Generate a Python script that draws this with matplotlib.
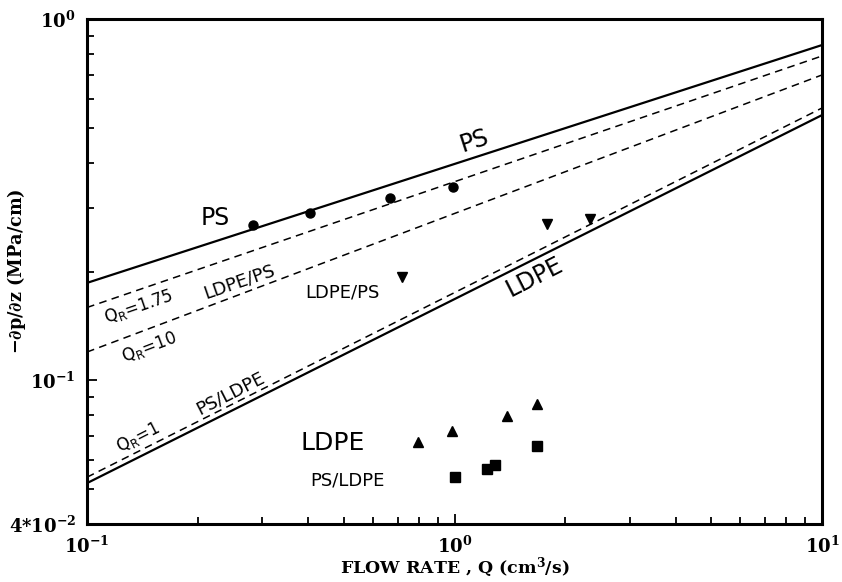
import numpy as np
import matplotlib
matplotlib.use("Agg")
import matplotlib.pyplot as plt
from matplotlib.ticker import FixedLocator, FixedFormatter, NullFormatter

plt.rcParams['font.family'] = ['DejaVu Serif']
plt.rcParams['mathtext.fontset'] = 'dejavuserif'
plt.rcParams['mathtext.default'] = 'bf'

# model lines: values at Q = 0.1 and Q = 10
q_ends = [0.1, 10.0]
ps_line = [0.186, 0.847]
qr175_line = [0.159, 0.790]
qr10_line = [0.1197, 0.700]
qr1_line = [0.0539, 0.567]
ldpe_line = [0.0519, 0.542]

# measured points
ps_q = [0.283, 0.405, 0.667, 0.99]
ps_dp = [0.269, 0.290, 0.3186, 0.343]
ldpe_ps_q = [0.718, 1.78, 2.34]
ldpe_ps_dp = [0.193, 0.2705, 0.279]
ldpe_q = [0.794, 0.987, 1.387, 1.674]
ldpe_dp = [0.0675, 0.0724, 0.0795, 0.0857]
ps_ldpe_q = [1.0, 1.224, 1.29, 1.674]
ps_ldpe_dp = [0.054, 0.0569, 0.0581, 0.0658]

xticks = [0.1, 1.0, 10.0]
xtick_labels = [r'$10^{-1}$', r'$10^{0}$', r'$10^{1}$']
yticks = [0.04, 0.1, 1.0]
ytick_labels = [r'4*$10^{-2}$', r'$10^{-1}$', r'$10^{0}$']

fig = plt.figure(figsize=(8.42, 5.82), dpi=100)
ax = fig.add_axes([87 / 842, 58 / 582, 735 / 842, 505 / 582])
ax.set_xscale('log')
ax.set_yscale('log')
ax.set_xlim(0.1, 10)
ax.set_ylim(0.04, 1.0)

ax.plot(q_ends, ps_line, color='black', lw=1.6)
ax.plot(q_ends, ldpe_line, color='black', lw=1.6)
dash = (0, (5, 3.5))
ax.plot(q_ends, qr175_line, color='black', lw=1.1, linestyle=dash)
ax.plot(q_ends, qr10_line, color='black', lw=1.1, linestyle=dash)
ax.plot(q_ends, qr1_line, color='black', lw=1.1, linestyle=dash)

ax.plot(ps_q, ps_dp, 'o', color='black', ms=6.5, ls='none')
ax.plot(ldpe_ps_q, ldpe_ps_dp, 'v', color='black', ms=6.5, ls='none')
ax.plot(ldpe_q, ldpe_dp, '^', color='black', ms=6.5, ls='none')
ax.plot(ps_ldpe_q, ps_ldpe_dp, 's', color='black', ms=6.5, ls='none')

sans = dict(family='DejaVu Sans', ha='center', va='center', color='black')
ax.text(0.224, 0.281, 'PS', fontsize=17, **sans)
ax.text(1.13, 0.459, 'PS', fontsize=17, rotation=18, **sans)
ax.text(0.259, 0.187, 'LDPE/PS', fontsize=13, rotation=19, **sans)
ax.text(0.138, 0.160, r'$\mathsf{Q_R}$=1.75', fontsize=12, rotation=19, **sans)
ax.text(0.1475, 0.1234, r'$\mathsf{Q_R}$=10', fontsize=12, rotation=21, **sans)
ax.text(0.494, 0.175, 'LDPE/PS', fontsize=13, **sans)
ax.text(0.245, 0.092, 'PS/LDPE', fontsize=13, rotation=27, **sans)
ax.text(0.138, 0.0695, r'$\mathsf{Q_R}$=1', fontsize=12, rotation=27, **sans)
ax.text(1.656, 0.193, 'LDPE', fontsize=17, rotation=27, **sans)
ax.text(0.467, 0.0669, 'LDPE', fontsize=18, **sans)
ax.text(0.51, 0.0528, 'PS/LDPE', fontsize=13, **sans)

ax.xaxis.set_major_locator(FixedLocator(xticks))
ax.xaxis.set_major_formatter(FixedFormatter(xtick_labels))
ax.yaxis.set_major_locator(FixedLocator(yticks))
ax.yaxis.set_major_formatter(FixedFormatter(ytick_labels))
ax.xaxis.set_minor_formatter(NullFormatter())
ax.yaxis.set_minor_formatter(NullFormatter())
ax.tick_params(which='both', direction='in', top=False, right=False,
               width=1.3, labelsize=13)
ax.tick_params(which='major', length=7, pad=8)
ax.tick_params(which='minor', length=5)
for lbl in ax.get_xticklabels() + ax.get_yticklabels():
    lbl.set_fontweight('bold')
for s in ax.spines.values():
    s.set_linewidth(2.2)

ax.set_xlabel(r'FLOW RATE , Q (cm$^{3}$/s)', fontsize=12.5, fontweight='bold')
ax.xaxis.set_label_coords(0.5, -0.061)
ax.set_ylabel(r'$-\partial$p/$\partial$z (MPa/cm)', fontsize=12.7, fontweight='bold')
ax.yaxis.set_label_coords(-0.080, 0.5)

fig.savefig('out.png', dpi=100)
